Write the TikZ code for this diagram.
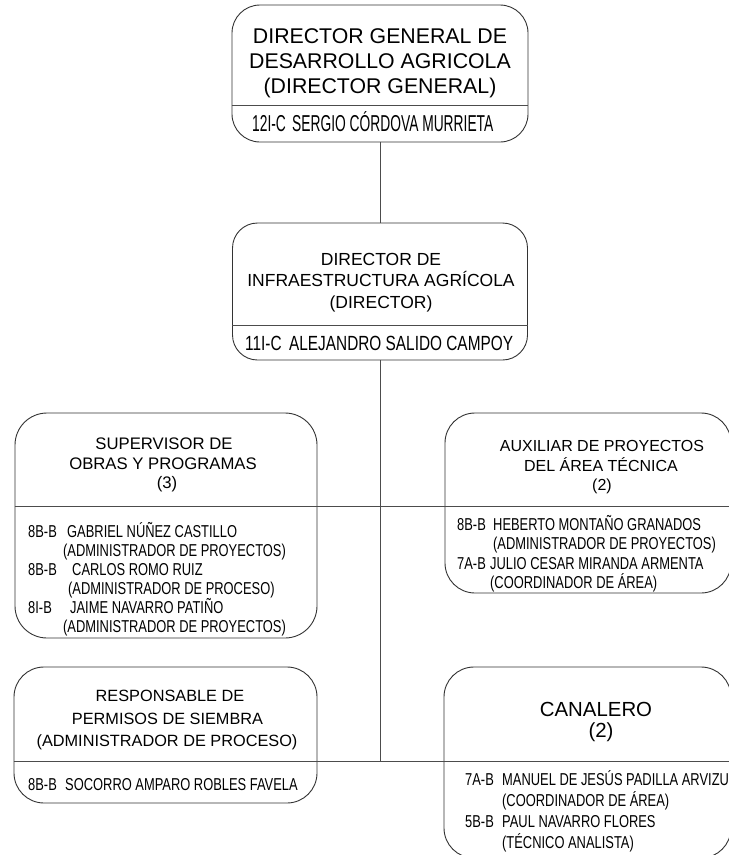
\documentclass[tikz,border=0pt]{standalone}
\usepackage{fontspec}
\setmainfont{Liberation Sans}
\newfontfamily\nrwA[FakeStretch=0.6]{Liberation Sans}
\newfontfamily\nrwB[FakeStretch=0.75]{Liberation Sans}
\tikzset{
  box/.style={draw=black!80, line width=0.9pt, rounded corners=#1, inner sep=0pt},
  box/.default=30pt,
  link/.style={draw=black!70, line width=0.9pt},
  tl/.style={anchor=base, inner sep=0pt, text=black},
  pl/.style={anchor=base west, inner sep=0pt, text=black, font=\nrwB\fontsize{17.2}{20}\selectfont},
}
\begin{document}
\begin{tikzpicture}[x=1pt,y=-1pt]
\useasboundingbox (0,0) rectangle (729,855);
\clip (0,0) rectangle (729,855);
\fill[white] (0,0) rectangle (729,855);
% boxes
\node[box=28pt, minimum width=296pt, minimum height=137pt] (b1) at (380,73.5) {};
\node[box=25pt, minimum width=295pt, minimum height=137pt] (b2) at (380,291.5) {};
\node[box=32pt, minimum width=302pt, minimum height=225pt] (b3) at (166,525.5) {};
\node[box=30pt, minimum width=286pt, minimum height=180pt] (b4) at (588,503) {};
\node[box=30pt, minimum width=303pt, minimum height=136pt] (b5) at (165.5,735) {};
\node[box=30pt, minimum width=287pt, minimum height=191pt] (b6) at (587.5,762.5) {};
% dividers and connectors
\coordinate (d1) at (0,105);
\coordinate (d2) at (0,325);
\coordinate (j1) at (380,506);
\coordinate (j2) at (380,761);
\draw[link] (b1.west |- d1) -- (b1.east |- d1);
\draw[link] (b2.west |- d2) -- (b2.east |- d2);
\draw[link] (b1.south) -- (b2.north);
\draw[link] (b2.south) -- (j2);
\draw[link] (b3.west |- j1) -- (b4.east |- j1);
\draw[link] (b5.west |- j2) -- (b6.east |- j2);
% box 1
\node[tl, font=\fontsize{21.3}{25}\selectfont] (t11) at (380,43.6) {DIRECTOR GENERAL DE};
\node[tl, font=\fontsize{21.3}{25}\selectfont] (t12) at (380,68.6) {DESARROLLO AGRICOLA};
\node[tl, font=\fontsize{21.3}{25}\selectfont] (t13) at (380,93.6) {(DIRECTOR GENERAL)};
\node[anchor=base west, inner sep=0pt, font=\nrwA\fontsize{23}{26}\selectfont] (n1) at (252,131.5) {\makebox[40pt][l]{12I-C}SERGIO CÓRDOVA MURRIETA};
% box 2
\node[tl, font=\fontsize{17.5}{21}\selectfont] (t21) at (381,265) {DIRECTOR DE};
\node[tl, font=\fontsize{17.5}{21}\selectfont] (t22) at (381,286.7) {INFRAESTRUCTURA AGRÍCOLA};
\node[tl, font=\fontsize{17.5}{21}\selectfont] (t23) at (381,308.3) {(DIRECTOR)};
\node[anchor=base west, inner sep=0pt, font=\nrwB\fontsize{20.5}{24}\selectfont] (n2) at (245,350) {\makebox[44pt][l]{11I-C}ALEJANDRO SALIDO CAMPOY};
% box 3
\node[tl, font=\fontsize{16.7}{20}\selectfont] (t31) at (164,449.5) {SUPERVISOR DE};
\node[tl, font=\fontsize{16.7}{20}\selectfont] (t32) at (163,469.5) {OBRAS Y PROGRAMAS};
\node[tl, font=\fontsize{16.7}{20}\selectfont] (t33) at (167,488.5) {(3)};
\node[pl] (p31) at (28,537) {\makebox[39pt][l]{8B-B}GABRIEL NÚÑEZ CASTILLO};
\node[pl] (p32) at (63,556) {(ADMINISTRADOR DE PROYECTOS)};
\node[pl] (p33) at (28,575) {\makebox[44pt][l]{8B-B}CARLOS ROMO RUIZ};
\node[pl] (p34) at (68,594) {(ADMINISTRADOR DE PROCESO)};
\node[pl] (p35) at (28,613) {\makebox[42pt][l]{8I-B}JAIME NAVARRO PATIÑO};
\node[pl] (p36) at (63,632) {(ADMINISTRADOR DE PROYECTOS)};
% box 4
\node[tl, font=\fontsize{16}{20}\selectfont] (t41) at (602,451.5) {AUXILIAR DE PROYECTOS};
\node[tl, font=\fontsize{16}{20}\selectfont] (t42) at (601,471.5) {DEL ÁREA TÉCNICA};
\node[tl, font=\fontsize{16}{20}\selectfont] (t43) at (602,490) {(2)};
\node[pl] (p41) at (457,530) {\makebox[36pt][l]{8B-B}HEBERTO MONTAÑO GRANADOS};
\node[pl] (p42) at (493,549.5) {(ADMINISTRADOR DE PROYECTOS)};
\node[pl] (p43) at (457,569) {\makebox[33pt][l]{7A-B}JULIO CESAR MIRANDA ARMENTA};
\node[pl] (p44) at (490,588) {(COORDINADOR DE ÁREA)};
% box 5
\node[tl, font=\fontsize{16.3}{20}\selectfont] (t51) at (170,701.7) {RESPONSABLE DE};
\node[tl, font=\fontsize{16.3}{20}\selectfont] (t52) at (167.5,724) {PERMISOS DE SIEMBRA};
\node[tl, font=\fontsize{16.3}{20}\selectfont] (t53) at (167,746.5) {(ADMINISTRADOR DE PROCESO)};
\node[pl] (p51) at (28,790) {\makebox[37pt][l]{8B-B}SOCORRO AMPARO ROBLES FAVELA};
% box 6
\node[tl, font=\fontsize{20.4}{24}\selectfont] (t61) at (596,716) {CANALERO};
\node[tl, font=\fontsize{20.4}{24}\selectfont] (t62) at (601,737) {(2)};
\node[pl] (p61) at (465,785) {\makebox[37pt][l]{7A-B}MANUEL DE JESÚS PADILLA ARVIZU};
\node[pl] (p62) at (502,806) {(COORDINADOR DE ÁREA)};
\node[pl] (p63) at (465,827) {\makebox[37pt][l]{5B-B}PAUL NAVARRO FLORES};
\node[pl] (p64) at (502,848) {(TÉCNICO ANALISTA)};
\end{tikzpicture}
\end{document}
